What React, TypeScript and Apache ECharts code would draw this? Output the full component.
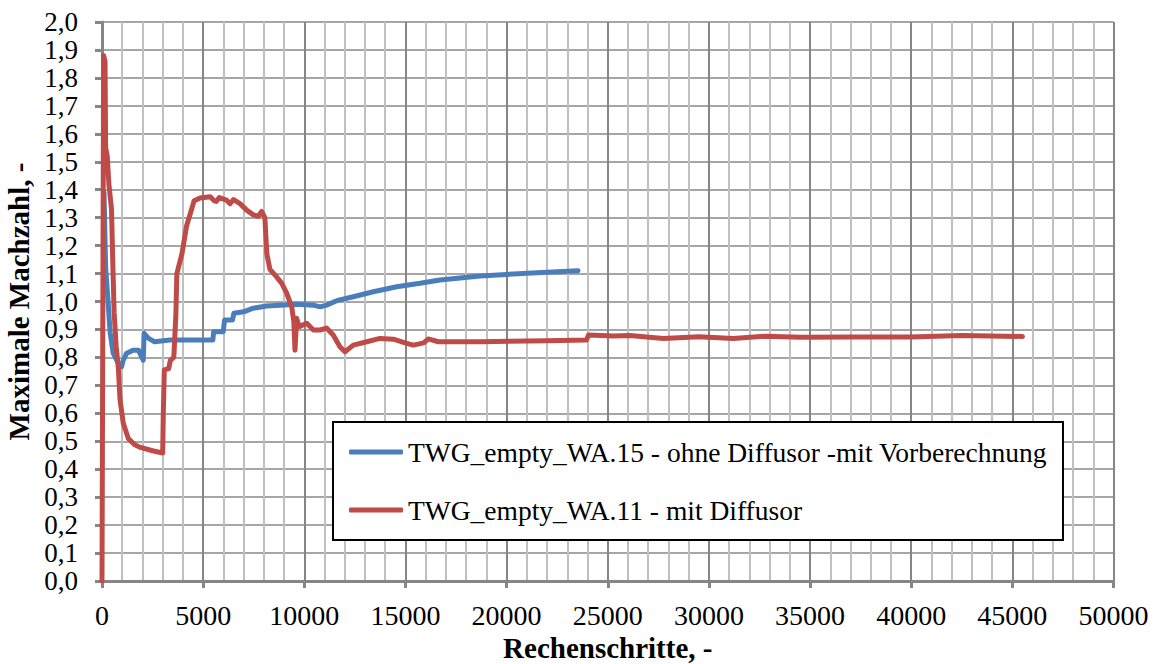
import React, { useEffect, useRef } from "react";
import * as echarts from "echarts";

const xTickLabels = ["0", "5000", "10000", "15000", "20000", "25000", "30000", "35000", "40000", "45000", "50000"];
const yTickLabels = ["0,0", "0,1", "0,2", "0,3", "0,4", "0,5", "0,6", "0,7", "0,8", "0,9", "1,0", "1,1", "1,2", "1,3", "1,4", "1,5", "1,6", "1,7", "1,8", "1,9", "2,0"];

const seriesNames = [
  "TWG_empty_WA.15 - ohne Diffusor -mit Vorberechnung",
  "TWG_empty_WA.11 - mit Diffusor",
];

const blueX = [100, 180, 300, 400, 550, 800, 970, 1050, 1220, 1550, 1800, 2040, 2080, 2300, 2600, 3360, 5480, 5520, 5990, 6060, 6450, 6520, 7000, 7480, 8140, 8800, 9620, 10450, 10780, 11100, 11600, 12420, 13410, 14570, 15720, 16710, 18690, 20000, 21500, 23530];
const blueY = [1.39, 1.12, 1.0, 0.89, 0.815, 0.78, 0.767, 0.79, 0.815, 0.826, 0.826, 0.79, 0.886, 0.868, 0.856, 0.862, 0.862, 0.892, 0.892, 0.934, 0.934, 0.958, 0.963, 0.976, 0.984, 0.987, 0.99, 0.987, 0.981, 0.987, 1.003, 1.017, 1.035, 1.053, 1.065, 1.077, 1.091, 1.097, 1.103, 1.11];

const redX = [0, 80, 150, 180, 260, 340, 470, 540, 600, 700, 810, 890, 1050, 1300, 1600, 1900, 2500, 3000, 3030, 3080, 3300, 3380, 3550, 3650, 3700, 3950, 4180, 4430, 4550, 4850, 5350, 5550, 5650, 5800, 6150, 6330, 6500, 6820, 7150, 7480, 7730, 7890, 8050, 8150, 8300, 8630, 8880, 9130, 9380, 9480, 9540, 9620, 9750, 10120, 10450, 10780, 11100, 11430, 11760, 12010, 12420, 13090, 13740, 14400, 15060, 15390, 15900, 16130, 16620, 18690, 21980, 23950, 24050, 25280, 26100, 27750, 29500, 31200, 32860, 34500, 37000, 40000, 42500, 45500];
const redY = [0, 1.88, 1.86, 1.55, 1.52, 1.42, 1.33, 1.12, 0.96, 0.84, 0.76, 0.65, 0.565, 0.51, 0.488, 0.478, 0.466, 0.458, 0.6, 0.755, 0.76, 0.79, 0.8, 0.95, 1.1, 1.17, 1.27, 1.33, 1.36, 1.37, 1.375, 1.36, 1.358, 1.372, 1.363, 1.35, 1.365, 1.35, 1.327, 1.31, 1.305, 1.322, 1.3, 1.17, 1.115, 1.088, 1.066, 1.03, 0.98, 0.93, 0.826, 0.94, 0.91, 0.922, 0.898, 0.898, 0.905, 0.88, 0.838, 0.82, 0.844, 0.856, 0.868, 0.865, 0.85, 0.844, 0.852, 0.866, 0.856, 0.856, 0.86, 0.862, 0.88, 0.877, 0.878, 0.868, 0.874, 0.868, 0.876, 0.872, 0.873, 0.873, 0.878, 0.875];

const zip = (xs: number[], ys: number[]) => xs.map((x, i) => [x, ys[i]]);

const FONT = "Liberation Serif";
const BLUE = "#4a7ebb";
const RED = "#be4b48";

export default function App() {
  const ref = useRef<HTMLDivElement>(null);
  useEffect(() => {
    if (!ref.current) return;
    const chart = echarts.init(ref.current, undefined, { renderer: "svg" });
    chart.setOption({
      animation: false,
      backgroundColor: "#ffffff",
      grid: { left: 102, right: 43.5, top: 22, bottom: 83, containLabel: false, outerBoundsMode: "none" },
      legend: {
        orient: "vertical",
        left: 333,
        top: 422,
        padding: [15, 16, 15, 16],
        itemGap: 28,
        itemWidth: 54,
        itemHeight: 5,
        backgroundColor: "#ffffff",
        borderColor: "#000000",
        borderWidth: 2,
        borderRadius: 0,
        textStyle: { fontFamily: FONT, fontSize: 27.5, color: "#000", lineHeight: 30 },
        data: [
          { name: seriesNames[0], icon: "roundRect", itemStyle: { color: BLUE } },
          { name: seriesNames[1], icon: "roundRect", itemStyle: { color: RED } },
        ],
      },
      xAxis: {
        type: "value",
        min: 0,
        max: 50000,
        interval: 5000,
        name: "Rechenschritte, -",
        nameLocation: "middle",
        nameGap: 53,
        nameTextStyle: { fontFamily: FONT, fontSize: 29, lineHeight: 28, fontWeight: "bold", color: "#000" },
        axisLine: { show: true, onZero: false, lineStyle: { color: "#868686", width: 3 } },
        axisTick: { show: true, length: 7, lineStyle: { color: "#868686", width: 3 } },
        axisLabel: {
          fontFamily: FONT,
          fontSize: 28,
          color: "#000",
          margin: 20,
          hideOverlap: false,
          showMinLabel: true,
          showMaxLabel: true,
          formatter: (v: number) => xTickLabels[Math.round(v / 5000)] ?? String(v),
        },
        splitLine: { show: true, lineStyle: { color: "#868686", width: 2 } },
        minorTick: { show: false, splitNumber: 5 },
        minorSplitLine: { show: true, lineStyle: { color: "#c0c0c0", width: 2 } },
      },
      yAxis: {
        type: "value",
        min: 0,
        max: 2,
        interval: 0.1,
        name: "Maximale Machzahl, -",
        nameLocation: "middle",
        nameGap: 68,
        nameTextStyle: { fontFamily: FONT, fontSize: 29, fontWeight: "bold", color: "#000" },
        axisLine: { show: true, onZero: false, lineStyle: { color: "#868686", width: 3 } },
        axisTick: { show: true, length: 7, lineStyle: { color: "#868686", width: 3 } },
        axisLabel: {
          fontFamily: FONT,
          fontSize: 27,
          lineHeight: 24,
          color: "#000",
          margin: 24,
          hideOverlap: false,
          showMinLabel: true,
          showMaxLabel: true,
          formatter: (v: number) => yTickLabels[Math.round(v * 10)] ?? String(v),
        },
        splitLine: { show: true, lineStyle: { color: "#a6a6a6", width: 2 } },
      },
      series: [
        {
          name: seriesNames[0],
          type: "line",
          data: zip(blueX, blueY),
          showSymbol: false,
          symbol: "none",
          lineStyle: { color: BLUE, width: 5, cap: "round", join: "round" },
          itemStyle: { color: BLUE },
          z: 2,
        },
        {
          name: seriesNames[1],
          type: "line",
          data: zip(redX, redY),
          showSymbol: false,
          symbol: "none",
          lineStyle: { color: RED, width: 5, cap: "round", join: "round" },
          itemStyle: { color: RED },
          z: 3,
        },
      ],
    });
    return () => chart.dispose();
  }, []);
  return <div ref={ref} style={{ width: 1157, height: 664, position: "absolute", left: 0, top: 0 }} />;
}
